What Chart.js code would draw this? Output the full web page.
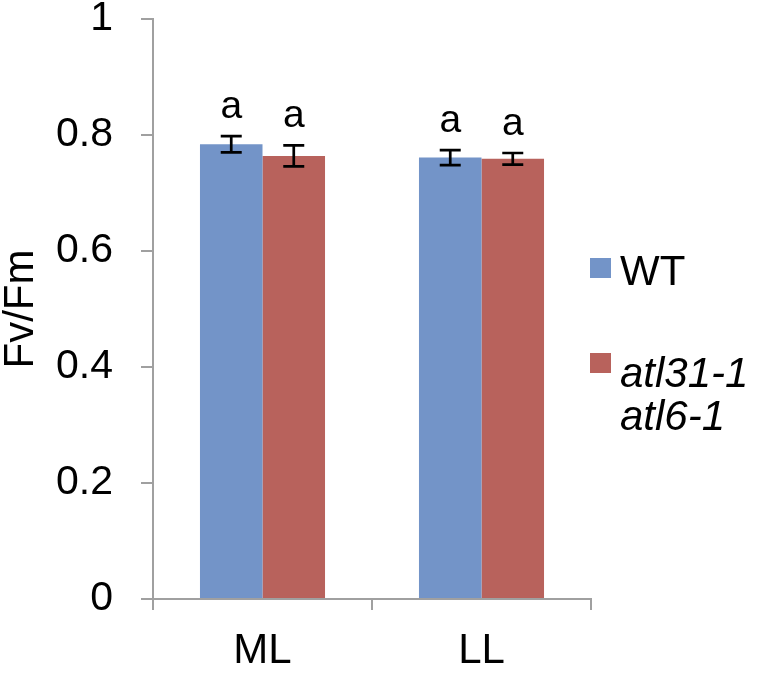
<!DOCTYPE html>
<html>
<head>
<meta charset="utf-8">
<script src="https://cdn.jsdelivr.net/npm/chart.js@4/dist/chart.umd.min.js"></script>
<style>
  html, body { margin: 0; padding: 0; background: #fff; }
  #wrap { width: 760px; height: 673px; }
</style>
</head>
<body>
<div id="wrap"><canvas id="chartFv"></canvas></div>
<script>
// Datos
const categorias = ['ML', 'LL'];
const valoresWT = [0.784, 0.761];
const erroresWT = [0.014, 0.013];
const valoresMut = [0.764, 0.759];
const erroresMut = [0.018, 0.010];
const letrasWT = ['a', 'a'];
const letrasMut = ['a', 'a'];
const ticksY = [0, 0.2, 0.4, 0.6, 0.8, 1];
const etiquetasY = ['0', '0.2', '0.4', '0.6', '0.8', '1'];
const nombresSeries = [['WT'], ['atl31-1', 'atl6-1']];

const colores = {
    wt: '#7394c8',
    mut: '#b8625c',
    eje: '#a0a0a0',
    texto: '#000000'
};
const fuente = '"Liberation Sans", Arial, sans-serif';

// Barras de error y letras de significancia
const pluginErrores = {
    id: 'errores',
    afterDatasetsDraw(chart) {
        const ctx = chart.ctx;
        const y = chart.scales.y;
        const errores = [erroresWT, erroresMut];
        const letras = [letrasWT, letrasMut];
        chart.data.datasets.forEach((ds, i) => {
            const meta = chart.getDatasetMeta(i);
            meta.data.forEach((bar, j) => {
                const v = ds.data[j];
                const e = errores[i][j];
                const yTop = y.getPixelForValue(v + e);
                const yBot = y.getPixelForValue(v - e);
                ctx.save();
                ctx.strokeStyle = '#000';
                ctx.lineWidth = 2.7;
                ctx.beginPath();
                ctx.moveTo(bar.x, yTop);
                ctx.lineTo(bar.x, yBot);
                ctx.moveTo(bar.x - 10.5, yTop);
                ctx.lineTo(bar.x + 10.5, yTop);
                ctx.moveTo(bar.x - 10.5, yBot);
                ctx.lineTo(bar.x + 10.5, yBot);
                ctx.stroke();
                ctx.fillStyle = colores.texto;
                ctx.font = '39px ' + fuente;
                ctx.textAlign = 'center';
                ctx.textBaseline = 'alphabetic';
                ctx.fillText(letras[i][j], bar.x, yTop - 18);
                ctx.restore();
            });
        });
    }
};

// Leyenda dibujada a la derecha
const pluginLeyenda = {
    id: 'leyendaDerecha',
    afterDraw(chart) {
        const ctx = chart.ctx;
        const area = chart.chartArea;
        const x0 = area.right - 1;
        const filas = [
            { color: colores.wt, caja: 258, base: [285], estilo: '' },
            { color: colores.mut, caja: 353, base: [387, 430], estilo: 'italic ' }
        ];
        ctx.save();
        filas.forEach((f, i) => {
            ctx.fillStyle = f.color;
            ctx.fillRect(x0, f.caja, 21, 20);
            ctx.fillStyle = colores.texto;
            ctx.font = f.estilo + '42px ' + fuente;
            ctx.textAlign = 'left';
            ctx.textBaseline = 'alphabetic';
            nombresSeries[i].forEach((linea, k) => {
                ctx.fillText(linea, x0 + 30, f.base[k]);
            });
        });
        ctx.restore();
    }
};

document.addEventListener('DOMContentLoaded', function () {
    const ctxFv = document.getElementById('chartFv');
    new Chart(ctxFv, {
        type: 'bar',
        data: {
            labels: categorias,
            datasets: [{
                label: nombresSeries[0].join(' '),
                data: valoresWT,
                backgroundColor: colores.wt,
                borderWidth: 0,
                categoryPercentage: 0.571,
                barPercentage: 1
            }, {
                label: nombresSeries[1].join(' '),
                data: valoresMut,
                backgroundColor: colores.mut,
                borderWidth: 0,
                categoryPercentage: 0.571,
                barPercentage: 1
            }]
        },
        options: {
            responsive: true,
            maintainAspectRatio: false,
            animation: false,
            layout: {
                padding: { top: 19, right: 169, left: 0, bottom: 0 }
            },
            plugins: {
                legend: { display: false },
                tooltip: { enabled: false }
            },
            scales: {
                x: {
                    grid: {
                        offset: true,
                        drawOnChartArea: false,
                        drawTicks: true,
                        tickLength: 11,
                        color: colores.eje,
                        lineWidth: 2
                    },
                    border: { color: colores.eje, width: 2 },
                    ticks: {
                        color: colores.texto,
                        padding: 16,
                        font: { family: fuente, size: 42 }
                    },
                    afterFit: function (scale) {
                        scale.height = 74;
                    }
                },
                y: {
                    min: 0,
                    max: 1,
                    afterBuildTicks: function (scale) {
                        scale.ticks = ticksY.map(v => ({ value: v }));
                    },
                    grid: {
                        drawOnChartArea: false,
                        drawTicks: true,
                        tickLength: 12,
                        color: colores.eje,
                        lineWidth: 2
                    },
                    border: { color: colores.eje, width: 2 },
                    ticks: {
                        color: colores.texto,
                        padding: 28,
                        font: { family: fuente, size: 41 },
                        callback: function (value, index) {
                            return etiquetasY[index];
                        }
                    },
                    title: {
                        display: true,
                        text: 'Fv/Fm',
                        color: colores.texto,
                        padding: 0,
                        font: { family: fuente, size: 42, lineHeight: 1.0 }
                    },
                    afterFit: function (scale) {
                        scale.width = 153;
                        scale.paddingTop = 0;
                        scale.paddingBottom = 0;
                    }
                }
            }
        },
        plugins: [pluginErrores, pluginLeyenda]
    });
});
</script>
</body>
</html>
